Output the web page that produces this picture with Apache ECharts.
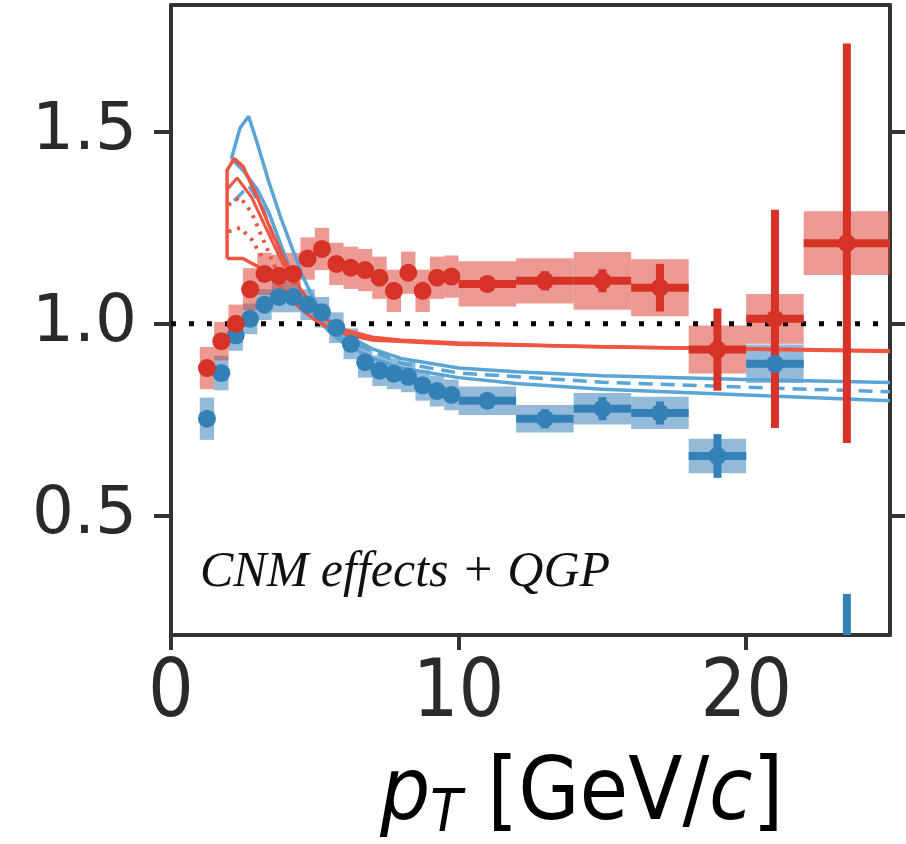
<!DOCTYPE html>
<html><head><meta charset="utf-8">
<script src="https://cdn.jsdelivr.net/npm/echarts@6/dist/echarts.min.js"></script>
<style>html,body{margin:0;padding:0;background:#fff}#c{width:906px;height:844px}</style>
</head><body><div id="c"></div>
<script>
// ---- tick values ----
const xTicks = [0, 10, 20];
const yTicks = [0.5, 1.0, 1.5];

// ---- red data (x, y, bin low/high, stat err, sys half-height) ----
const redX   = [1.25,1.75,2.25,2.75,3.25,3.75,4.25,4.75,5.25,5.75,6.25,6.75,7.25,7.75,8.25,8.75,9.25,9.75,11,13,15,17,19,21,23.5];
const redY   = [0.885,0.955,1.0,1.09,1.13,1.125,1.13,1.17,1.195,1.156,1.146,1.14,1.12,1.086,1.133,1.086,1.12,1.123,1.104,1.112,1.112,1.094,0.933,1.013,1.21];
const redBinLo = [1.0,1.5,2.0,2.5,3.0,3.5,4.0,4.5,5.0,5.5,6.0,6.5,7.0,7.5,8.0,8.5,9.0,9.5,10,12,14,16,18,20,22];
const redBinHi = [1.5,2.0,2.5,3.0,3.5,4.0,4.5,5.0,5.5,6.0,6.5,7.0,7.5,8.0,8.5,9.0,9.5,10,12,14,16,18,20,22,25];
const redStat = [0.01,0.01,0.01,0.01,0.01,0.01,0.01,0.01,0.01,0.01,0.01,0.01,0.01,0.01,0.01,0.01,0.01,0.012,0.02,0.025,0.03,0.062,0.107,0.284,0.52];
const redSys  = [0.055,0.05,0.05,0.055,0.055,0.055,0.055,0.055,0.055,0.055,0.055,0.055,0.055,0.055,0.055,0.055,0.055,0.055,0.059,0.059,0.075,0.074,0.0625,0.065,0.083];

// ---- blue data ----
const blueX   = [1.25,1.75,2.25,2.75,3.25,3.75,4.25,4.75,5.25,5.75,6.25,6.75,7.25,7.75,8.25,8.75,9.25,9.75,11,13,15,17,19,21,23.5];
const blueY   = [0.753,0.872,0.97,1.013,1.05,1.07,1.07,1.05,1.03,0.99,0.948,0.9,0.878,0.87,0.862,0.84,0.825,0.815,0.80,0.753,0.779,0.768,0.656,0.896,0.10];
const blueBinLo = redBinLo;
const blueBinHi = redBinHi;
const blueStat = [0.01,0.01,0.01,0.01,0.01,0.01,0.01,0.01,0.01,0.01,0.01,0.01,0.01,0.01,0.01,0.01,0.01,0.01,0.02,0.025,0.03,0.03,0.057,0.02,0.197];
const blueSys  = [0.055,0.045,0.04,0.04,0.04,0.04,0.04,0.04,0.04,0.04,0.04,0.04,0.04,0.04,0.04,0.04,0.04,0.04,0.037,0.036,0.041,0.042,0.045,0.05,0.04];

// ---- model curves ----
const blueUpX = [2.1,2.4,2.7,3.0,3.4,3.8,4.2,4.6,5.0,5.5,6,7,8,10,12,15,20,25];
const blueUpY = [1.43,1.51,1.54,1.47,1.37,1.28,1.20,1.12,1.06,1.01,0.975,0.935,0.91,0.885,0.875,0.865,0.855,0.847];
const blueLoX = [2.1,2.5,3.0,3.4,3.8,4.2,4.6,5.0,5.5,6,7,8,10,12,15,20,25];
const blueLoY = [1.43,1.40,1.35,1.29,1.21,1.13,1.07,1.02,0.98,0.95,0.91,0.885,0.86,0.845,0.83,0.815,0.80];
const blueMidX = [2.2,2.7,3.2,3.8,4.3,5,6,8,10,15,20,25];
const blueMidY = [1.32,1.36,1.30,1.18,1.10,1.02,0.96,0.898,0.872,0.848,0.835,0.823];
const redUpX = [1.95,1.95,2.2,2.5,3.0,3.5,4.0,4.5,5.0,5.5,6,7,8,10,15,20,25];
const redUpY = [1.17,1.40,1.43,1.41,1.33,1.24,1.16,1.09,1.04,1.005,0.985,0.965,0.957,0.95,0.94,0.935,0.93];
const redLoX = [1.95,2.5,3.0,3.5,4.0,4.5,5.0,5.5,6,7,10,25];
const redLoY = [1.17,1.17,1.15,1.12,1.08,1.04,1.01,0.99,0.975,0.958,0.947,0.928];
const redMidX = [1.95,2.3,2.8,3.3,3.8,4.3];
const redMidY = [1.35,1.38,1.33,1.25,1.17,1.10];
const redDot1X = [2.0,2.4,2.8,3.2,3.6,4.0];
const redDot1Y = [1.31,1.33,1.29,1.22,1.15,1.09];
const redDot2X = [2.0,2.4,2.8,3.2];
const redDot2Y = [1.24,1.25,1.22,1.17];

const X_MIN = 0, X_MAX = 25, Y_MIN = 0.19, Y_MAX = 1.83;

const RED = '#d63227', RED_BOX = 'rgba(218,70,56,0.55)', RED_LINE = '#ef5440';
const BLUE = '#3481b8', BLUE_BOX = 'rgba(60,130,185,0.55)', BLUE_LINE = '#5ba4d6';

function pairs(xs, ys) { return xs.map((x, i) => [x, ys[i]]); }
function boxes(lo, hi, y, s) { return y.map((v, i) => [lo[i], hi[i], v - s[i], v + s[i]]); }
function bars(x, lo, hi, y, e) { return y.map((v, i) => [x[i], lo[i], hi[i], v - e[i], v + e[i], v]); }

function boxRender(color) {
  return function (params, api) {
    const p1 = api.coord([api.value(0), api.value(3)]);
    const p2 = api.coord([api.value(1), api.value(2)]);
    const r = echarts.graphic.clipRectByRect({x: p1[0], y: p1[1], width: p2[0]-p1[0], height: p2[1]-p1[1]}, params.coordSys);
    if (!r) return;
    return {type: 'rect', shape: r, style: {fill: color}};
  };
}
function barRender(color, w) {
  return function (params, api) {
    const cx = api.coord([api.value(0), api.value(5)]);
    const top = api.coord([api.value(0), api.value(4)]);
    const bot = api.coord([api.value(0), api.value(3)]);
    const l = api.coord([api.value(1), api.value(5)]);
    const rr = api.coord([api.value(2), api.value(5)]);
    const cs = params.coordSys;
    const children = [];
    const v = echarts.graphic.clipRectByRect({x: cx[0]-w/2, y: top[1], width: w, height: bot[1]-top[1]}, cs);
    if (v) children.push({type: 'rect', shape: v, style: {fill: color}});
    const h = echarts.graphic.clipRectByRect({x: l[0], y: cx[1]-w/2, width: rr[0]-l[0], height: w}, cs);
    if (h) children.push({type: 'rect', shape: h, style: {fill: color}});
    return {type: 'group', children: children};
  };
}

const chart = echarts.init(document.getElementById('c'), null, {renderer: 'canvas'});
const axisCol = '#333';
const lineSeries = (xs, ys, color, type, w) => ({
  type: 'line', data: pairs(xs, ys), showSymbol: false, symbol: 'none', smooth: false,
  lineStyle: {color: color, width: w || 3, type: type || 'solid'}, z: 3, silent: true, animation: false
});

chart.setOption({
  animation: false,
  grid: {left: 171, right: 16, top: 5, bottom: 209, containLabel: false},
  xAxis: [{
    type: 'value', min: X_MIN, max: X_MAX, position: 'bottom',
    axisLine: {show: true, onZero: false, lineStyle: {color: axisCol, width: 4}},
    axisTick: {show: true, length: 15, lineStyle: {color: axisCol, width: 4}, customValues: xTicks},
    axisLabel: {customValues: xTicks, fontFamily: 'DejaVu Sans Condensed', fontSize: 80, color: '#2a2a2a', margin: 20},
    splitLine: {show: false}
  }, {
    type: 'value', min: X_MIN, max: X_MAX, position: 'top',
    axisLine: {show: true, onZero: false, lineStyle: {color: axisCol, width: 4}},
    axisTick: {show: false}, axisLabel: {show: false}, splitLine: {show: false}
  }],
  yAxis: [{
    type: 'value', min: Y_MIN, max: Y_MAX, position: 'left',
    axisLine: {show: true, onZero: false, lineStyle: {color: axisCol, width: 4}},
    axisTick: {show: true, length: 17, lineStyle: {color: axisCol, width: 4}, customValues: yTicks},
    axisLabel: {customValues: yTicks, formatter: v => v.toFixed(1), fontFamily: 'DejaVu Sans', fontSize: 66, color: '#2a2a2a', margin: 34},
    splitLine: {show: false}
  }, {
    type: 'value', min: Y_MIN, max: Y_MAX, position: 'right',
    axisLine: {show: true, onZero: false, lineStyle: {color: axisCol, width: 4}},
    axisTick: {show: true, length: 15, lineStyle: {color: axisCol, width: 4}, customValues: yTicks},
    axisLabel: {show: false}, splitLine: {show: false}
  }],
  series: [
    {type: 'custom', renderItem: boxRender(BLUE_BOX), data: boxes(blueBinLo, blueBinHi, blueY, blueSys), z: 1, silent: true},
    {type: 'custom', renderItem: boxRender(RED_BOX), data: boxes(redBinLo, redBinHi, redY, redSys), z: 1, silent: true},
    {type: 'line', data: [[X_MIN, 1], [X_MAX, 1]], showSymbol: false, symbol: 'none',
      lineStyle: {color: '#000', width: 5, type: [5, 13], cap: 'butt'}, z: 2, silent: true},
    lineSeries(blueUpX, blueUpY, BLUE_LINE, 'solid', 3.5),
    lineSeries(blueLoX, blueLoY, BLUE_LINE, 'solid', 3.5),
    lineSeries(blueMidX, blueMidY, BLUE_LINE, [14, 8], 3.5),
    lineSeries(redUpX, redUpY, RED_LINE, 'solid', 3.5),
    lineSeries(redLoX, redLoY, RED_LINE, 'solid', 3.5),
    lineSeries(redMidX, redMidY, RED_LINE, 'solid', 3),
    lineSeries(redDot1X, redDot1Y, RED_LINE, [3, 6], 4),
    lineSeries(redDot2X, redDot2Y, RED_LINE, [3, 6], 4),
    {type: 'custom', renderItem: barRender(BLUE, 8), data: bars(blueX, blueBinLo, blueBinHi, blueY, blueStat), z: 4, silent: true},
    {type: 'scatter', data: pairs(blueX, blueY), symbolSize: 18, itemStyle: {color: BLUE, opacity: 1}, z: 5, silent: true, clip: true},
    {type: 'custom', renderItem: barRender(RED, 8), data: bars(redX, redBinLo, redBinHi, redY, redStat), z: 4, silent: true},
    {type: 'scatter', data: pairs(redX, redY), symbolSize: 18, itemStyle: {color: RED, opacity: 1}, z: 5, silent: true, clip: true}
  ],
  graphic: [
    {type: 'text', left: 200, top: 548, style: {text: 'CNM effects + QGP', font: 'italic 50px "Liberation Serif", serif', fill: '#111'}},
    {type: 'text', left: 380, top: 752, style: {
      text: '{i|p}{s|T}{n| [GeV/}{i|c}{n|]}',
      rich: {
        i: {fontFamily: 'DejaVu Sans Condensed', fontStyle: 'italic', fontSize: 88, color: '#2a2a2a'},
        s: {fontFamily: 'DejaVu Sans Condensed', fontStyle: 'italic', fontSize: 58, color: '#2a2a2a', padding: [40, 0, 0, 0]},
        n: {fontFamily: 'DejaVu Sans Condensed', fontSize: 88, color: '#2a2a2a'}
      }
    }}
  ]
});
</script></body></html>
